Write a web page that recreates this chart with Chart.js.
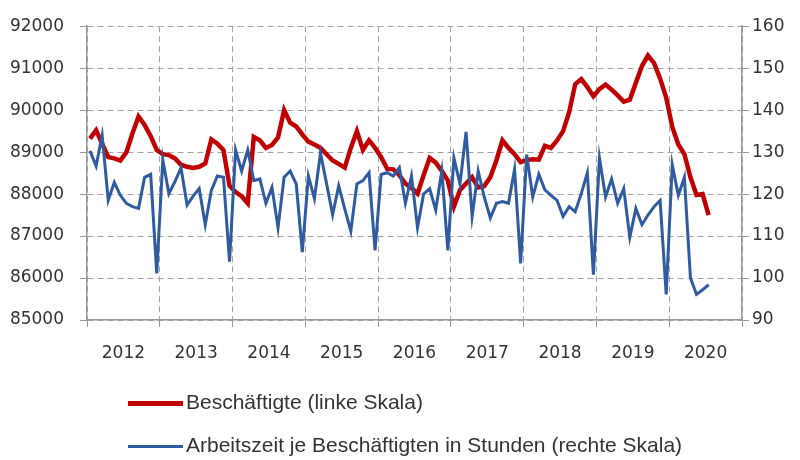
<!DOCTYPE html>
<html>
<head>
<meta charset="utf-8">
<script src="https://cdn.jsdelivr.net/npm/chart.js@4/dist/chart.umd.min.js"></script>
<style>
  body { margin: 0; background: #fff; }
  #wrap { position: relative; width: 800px; height: 460px; }
  .leg { position: absolute; left: 128px; font-family: "Liberation Sans Narrow", "Liberation Sans", sans-serif; font-size: 21px; color: #333; }
  .leg span.sw { position: absolute; left: 0; width: 55px; }
  .leg span.tx { position: absolute; left: 58px; white-space: nowrap; }
</style>
</head>
<body>
<div id="wrap">
  <canvas id="LineChart" width="800" height="460"></canvas>
  <div class="leg" style="top:390px"><span class="sw" style="top:11px;height:5px;background:#c00000"></span><span class="tx" id="leg1"></span></div>
  <div class="leg" style="top:433px"><span class="sw" style="top:12px;height:3px;background:#2f5b9f"></span><span class="tx" id="leg2"></span></div>
</div>
<script>
// Beschaeftigte vs Arbeitszeit, monthly Jan 2012 - Jul 2020

const years = ['2012', '2013', '2014', '2015', '2016', '2017', '2018', '2019', '2020'];

const seriesNames = ['Beschäftigte (linke Skala)', 'Arbeitszeit je Beschäftigten in Stunden (rechte Skala)'];

// Beschaeftigte in 1000 (left scale)
const beschaeftigte = [
    89320, 89520, 89200, 88880, 88850, 88800, 89000, 89450, 89850, 89650, 89380, 89050,
    88950, 88930, 88850, 88700, 88650, 88620, 88650, 88730, 89300, 89200, 89050, 88200,
    88050, 87950, 87780, 89360, 89280, 89100, 89170, 89350, 90000, 89700, 89610, 89420,
    89250, 89180, 89100, 88950, 88800, 88720, 88630, 89100, 89500, 89050, 89280, 89100,
    88880, 88600, 88590, 88450, 88250, 88150, 88010, 88450, 88860, 88750, 88550, 88320,
    87700, 88100, 88250, 88400, 88160, 88190, 88400, 88800, 89280, 89100, 88950, 88760,
    88810, 88830, 88820, 89150, 89100, 89280, 89500, 89950, 90620, 90740, 90550, 90330,
    90500, 90610, 90490, 90350, 90200, 90250, 90650, 91050, 91300, 91120, 90750, 90300,
    89600, 89180, 88950, 88400, 87980, 88000, 87500
];

// Arbeitszeit je Beschaeftigten in Stunden (right scale)
const arbeitszeit = [
    130.3, 126.7, 134.0, 118.5, 122.8, 119.7, 117.8, 117.0, 116.6, 124.0, 124.7, 101.1,
    128.2, 120.1, 123.0, 126.3, 117.4, 119.5, 121.3, 112.7, 120.9, 124.3, 124.0, 103.9,
    130.5, 125.5, 130.5, 123.2, 123.6, 117.8, 121.6, 112.0, 124.0, 125.5, 122.4, 106.2,
    124.3, 118.9, 129.8, 122.5, 115.1, 122.0, 116.5, 111.2, 122.4, 123.2, 125.1, 106.6,
    124.7, 125.1, 124.3, 126.3, 117.8, 124.3, 112.0, 120.0, 121.3, 116.2, 125.5, 106.6,
    128.6, 122.4, 134.8, 114.7, 125.5, 119.3, 114.3, 117.8, 118.2, 117.8, 125.9, 103.5,
    129.4, 119.3, 124.7, 121.0, 119.7, 118.5, 114.7, 117.0, 115.8, 120.1, 125.1, 100.8,
    128.6, 119.3, 123.6, 117.8, 121.3, 109.7, 116.6, 112.7, 115.0, 117.0, 118.5, 96.1,
    127.0, 119.7, 124.0, 100.0, 96.1, 97.2, 98.4
];

const leftTicks = [85000, 86000, 87000, 88000, 89000, 90000, 91000, 92000];
const rightTicks = [90, 100, 110, 120, 130, 140, 150, 160];

document.getElementById('leg1').textContent = seriesNames[0];
document.getElementById('leg2').textContent = seriesNames[1];

const gridCol = '#a3a3a3';
const axisCol = '#9a9a9a';
const tickFont = { family: 'DejaVu Sans', size: 17 };

// month i sits in the middle of its month slot
const toPoints = arr => arr.map((v, i) => ({ x: i + 0.5, y: v }));

const yearLine = c => (c.tick && c.tick.value % 12 === 0) ? gridCol : 'rgba(0,0,0,0)';
const yearTick = c => (c.tick && c.tick.value % 12 === 0) ? axisCol : 'rgba(0,0,0,0)';

const data = {
    datasets: [{
        label: seriesNames[0],
        data: toPoints(beschaeftigte),
        borderColor: '#c00000',
        backgroundColor: '#c00000',
        borderWidth: 4.5,
        yAxisID: 'y',
        order: 2
    }, {
        label: seriesNames[1],
        data: toPoints(arbeitszeit),
        borderColor: '#2f5b9f',
        backgroundColor: '#2f5b9f',
        borderWidth: 3,
        yAxisID: 'y1',
        order: 1
    }]
};

const config = {
    type: 'line',
    data,
    options: {
        responsive: false,
        animation: false,
        elements: { point: { radius: 0 }, line: { tension: 0 } },
        layout: { padding: { top: 18, bottom: 90, left: 0, right: 0 } },
        plugins: { legend: { display: false }, tooltip: { enabled: false } },
        scales: {
            x: {
                type: 'linear',
                min: 0,
                max: years.length * 12,
                afterFit: s => { s.height = 50; },
                ticks: {
                    stepSize: 6,
                    autoSkip: false,
                    maxTicksLimit: 40,
                    maxRotation: 0,
                    padding: 16,
                    color: '#333',
                    font: tickFont,
                    callback: v => (v % 12 === 6) ? years[(v - 6) / 12] : ''
                },
                grid: { color: yearLine, tickColor: yearTick, tickLength: 7, lineWidth: 1 },
                border: { color: axisCol, width: 1.5, dash: [6, 4] }
            },
            y: {
                position: 'left',
                min: leftTicks[0],
                max: leftTicks[leftTicks.length - 1],
                afterFit: s => { s.width = 87; },
                afterBuildTicks: s => { s.ticks = leftTicks.map(v => ({ value: v })); },
                ticks: { padding: 16, color: '#333', font: tickFont, callback: v => String(v) },
                grid: { color: gridCol, tickColor: axisCol, tickLength: 7, lineWidth: 1 },
                border: { color: axisCol, width: 1.5, dash: [6, 4] }
            },
            y1: {
                position: 'right',
                min: rightTicks[0],
                max: rightTicks[rightTicks.length - 1],
                afterFit: s => { s.width = 58; },
                afterBuildTicks: s => { s.ticks = rightTicks.map(v => ({ value: v })); },
                ticks: { padding: 3, color: '#333', font: tickFont },
                grid: { drawOnChartArea: false, tickColor: axisCol, tickLength: 7 },
                border: { color: axisCol, width: 1.5 }
            }
        }
    }
};

const myChart = new Chart(document.getElementById('LineChart'), config);
</script>
</body>
</html>
